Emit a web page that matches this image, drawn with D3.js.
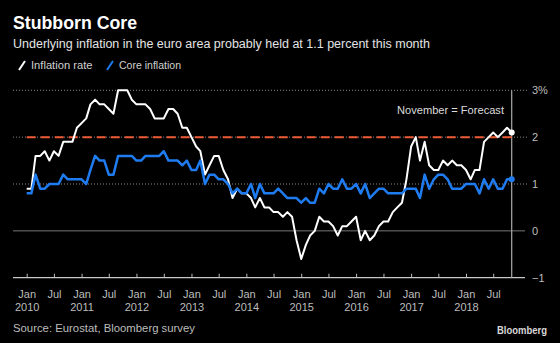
<!DOCTYPE html>
<html>
<head>
<meta charset="utf-8">
<script src="https://cdn.jsdelivr.net/npm/d3@7"></script>
<style>
  body { margin: 0; background: #000; }
  svg { display: block; font-family: "Liberation Sans", Arial, sans-serif; }
</style>
</head>
<body>
<svg width="560" height="343"></svg>
<script>
// monthly y/y rates, Jan 2010 .. Nov 2018 (Nov 2018 = forecast)
const inflationRate = [
  0.9, 0.9, 1.6, 1.6, 1.7, 1.5, 1.7, 1.6, 1.9, 1.9, 1.9, 2.2,
  2.3, 2.4, 2.7, 2.8, 2.7, 2.7, 2.6, 2.5, 3.0, 3.0, 3.0, 2.8,
  2.7, 2.7, 2.7, 2.6, 2.4, 2.4, 2.4, 2.6, 2.6, 2.5, 2.2, 2.2,
  2.0, 1.8, 1.7, 1.2, 1.4, 1.6, 1.6, 1.3, 1.1, 0.7, 0.9, 0.8,
  0.8, 0.7, 0.5, 0.7, 0.5, 0.5, 0.4, 0.4, 0.3, 0.4, 0.3, -0.2,
  -0.6, -0.3, -0.1, 0.0, 0.3, 0.2, 0.2, 0.1, -0.1, 0.1, 0.1, 0.2,
  0.3, -0.2, 0.0, -0.2, -0.1, 0.1, 0.2, 0.2, 0.4, 0.5, 0.6, 1.1,
  1.8, 2.0, 1.5, 1.9, 1.4, 1.3, 1.3, 1.5, 1.4, 1.5, 1.4, 1.4,
  1.3, 1.1, 1.3, 1.3, 1.9, 2.0, 2.1, 2.0, 2.1, 2.2, 2.1
];
const coreInflation = [
  0.8, 0.8, 1.2, 0.9, 0.9, 1.0, 1.0, 1.0, 1.2, 1.1, 1.1, 1.1,
  1.1, 1.0, 1.3, 1.6, 1.5, 1.5, 1.2, 1.2, 1.6, 1.6, 1.6, 1.6,
  1.5, 1.5, 1.6, 1.6, 1.6, 1.6, 1.7, 1.5, 1.5, 1.5, 1.4, 1.5,
  1.3, 1.3, 1.5, 1.0, 1.2, 1.2, 1.1, 1.1, 1.0, 0.8, 0.9, 0.8,
  0.8, 1.0, 0.7, 1.0, 0.8, 0.8, 0.8, 0.9, 0.8, 0.7, 0.7, 0.7,
  0.6, 0.7, 0.6, 0.6, 0.9, 0.8, 1.0, 0.9, 0.9, 1.1, 0.9, 0.9,
  1.0, 0.8, 1.0, 0.7, 0.8, 0.9, 0.9, 0.8, 0.8, 0.8, 0.8, 0.9,
  0.9, 0.9, 0.7, 1.2, 0.9, 1.1, 1.2, 1.2, 1.1, 0.9, 0.9, 0.9,
  1.0, 1.0, 1.0, 0.8, 1.1, 0.9, 1.1, 0.9, 0.9, 1.1, 1.1
];
const yTicks = [-1, 0, 1, 2, 3];
const target = 2;
const monthNames = ["Jan", "Jul"];

const svg = d3.select("svg");
const months = d3.timeMonth.range(new Date(2010, 0, 1), new Date(2018, 11, 1));
const tickDates = d3.timeMonth.every(6).range(new Date(2010, 0, 1), new Date(2018, 11, 1));

const x = d3.scaleTime()
  .domain([months[0], months[months.length - 1]])
  .range([26.7, 511.7]);
const y = d3.scaleLinear().domain([-1, 3]).range([277.7, 90.3]);

function fit(sel, w) {
  sel.attr("textLength", w).attr("lengthAdjust", "spacingAndGlyphs");
}

// titles
svg.append("text").attr("x", 13).attr("y", 29)
  .attr("fill", "#fff").attr("font-size", 17.5).attr("font-weight", "bold")
  .text("Stubborn Core").call(fit, 124);
svg.append("text").attr("x", 13).attr("y", 47.7)
  .attr("fill", "#e4e4e4").attr("font-size", 12.5)
  .text("Underlying inflation in the euro area probably held at 1.1 percent this month")
  .call(fit, 417);

// legend
const legend = [
  { label: "Inflation rate", color: "#fff", x: 19, w: 61.5 },
  { label: "Core inflation", color: "#1f7cf0", x: 107, w: 62 }
];
const lg = svg.append("g").selectAll("g").data(legend).enter().append("g");
lg.append("line")
  .attr("x1", d => d.x).attr("y1", 70).attr("x2", d => d.x + 6).attr("y2", 61)
  .attr("stroke", d => d.color).attr("stroke-width", 2);
lg.append("text")
  .attr("x", d => d.x + 12).attr("y", 69)
  .attr("fill", "#d0d0d0").attr("font-size", 11.5)
  .text(d => d.label)
  .each(function (d) { d3.select(this).call(fit, d.w); });

// grid
const grid = svg.append("g");
grid.selectAll("line")
  .data(yTicks.filter(t => t > 0))
  .enter().append("line")
  .attr("x1", 13).attr("x2", 527)
  .attr("y1", d => y(d)).attr("y2", d => y(d))
  .attr("stroke", "#8a8a8a").attr("stroke-dasharray", "1,2");
grid.append("line")
  .attr("x1", 13).attr("x2", 525).attr("y1", y(0)).attr("y2", y(0))
  .attr("stroke", "#777").attr("stroke-width", 1);

// right axis labels
svg.append("g").selectAll("text")
  .data(yTicks).enter().append("text")
  .attr("x", 532).attr("y", d => y(d)).attr("dy", "0.35em")
  .attr("fill", "#bdbdbd").attr("font-size", 11)
  .text(d => d === 3 ? "3%" : d3.format("d")(d).replace("-", "-"));

// x axis
const xAxis = svg.append("g")
  .attr("transform", `translate(0,${y(-1)})`)
  .call(d3.axisBottom(x).tickValues(tickDates).tickSize(-4).tickFormat(""));
xAxis.select(".domain").remove();
xAxis.selectAll(".tick line").attr("stroke", "#bbb");
xAxis.append("line").attr("x1", 13).attr("x2", 525)
  .attr("stroke", "#c8c8c8").attr("stroke-width", 1.2);
const tickText = xAxis.selectAll(".tick text")
  .attr("fill", "#bdbdbd").attr("font-size", 11).attr("y", 0).attr("dy", null);
tickText.append("tspan").attr("x", 0).attr("y", 20)
  .text(d => monthNames[d.getMonth() === 0 ? 0 : 1]);
tickText.filter(d => d.getMonth() === 0)
  .append("tspan").attr("x", 0).attr("y", 33.5)
  .text(d => d.getFullYear());

// right edge line
svg.append("line")
  .attr("x1", x(months[months.length - 1])).attr("x2", x(months[months.length - 1]))
  .attr("y1", y(3)).attr("y2", y(-1))
  .attr("stroke", "#aaa").attr("stroke-width", 1.2);

// target line
svg.append("line")
  .attr("x1", x(months[0])).attr("x2", x(months[months.length - 1]))
  .attr("y1", y(target)).attr("y2", y(target))
  .attr("stroke", "#ee5a36").attr("stroke-width", 2)
  .attr("stroke-dasharray", "9,5");

svg.append("text")
  .attr("x", 504).attr("y", 114).attr("text-anchor", "end")
  .attr("fill", "#dcdcdc").attr("font-size", 11.5)
  .text("November = Forecast").call(fit, 107);

// series
const line = d3.line()
  .x((d, i) => x(months[i]))
  .y(d => y(d));
const series = [
  { values: inflationRate, color: "#fff", width: 2 },
  { values: coreInflation, color: "#1f7cf0", width: 2.5 }
];
const sg = svg.append("g").selectAll("g").data(series).enter().append("g");
sg.append("path")
  .attr("d", d => line(d.values))
  .attr("fill", "none")
  .attr("stroke", d => d.color)
  .attr("stroke-width", d => d.width)
  .attr("stroke-linejoin", "round");
sg.append("circle")
  .attr("cx", x(months[months.length - 1]))
  .attr("cy", d => y(d.values[d.values.length - 1]))
  .attr("r", 3)
  .attr("fill", d => d.color);

// footer
svg.append("text").attr("x", 13).attr("y", 331.5)
  .attr("fill", "#bdbdbd").attr("font-size", 11.5)
  .text("Source: Eurostat, Bloomberg survey").call(fit, 182);
svg.append("text").attr("x", 547).attr("y", 334).attr("text-anchor", "end")
  .attr("fill", "#d8d8d8").attr("font-size", 10.5).attr("font-weight", "bold")
  .text("Bloomberg").call(fit, 50);
</script>
</body>
</html>
